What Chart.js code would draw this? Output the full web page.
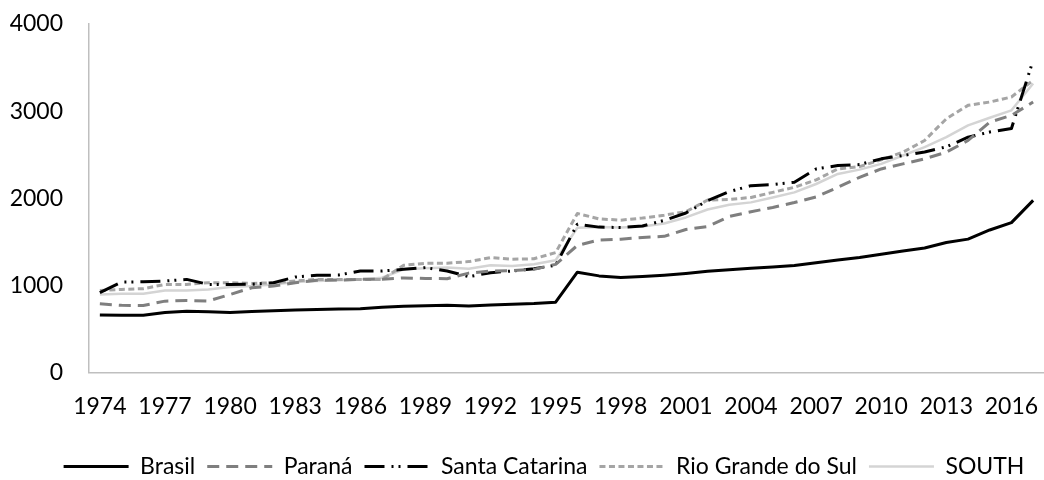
<!DOCTYPE html>
<html>
<head>
<meta charset="utf-8">
<script src="https://cdn.jsdelivr.net/npm/chart.js@4.4.1/dist/chart.umd.min.js"></script>
<style>
  html, body { margin: 0; padding: 0; background: #ffffff; }
  #wrap { width: 1044px; height: 480px; }
</style>
</head>
<body>
<div id="wrap"><canvas id="c" width="1044" height="480"></canvas></div>
<script>
const years = ['1974','1975','1976','1977','1978','1979','1980','1981','1982','1983','1984','1985','1986','1987','1988','1989','1990','1991','1992','1993','1994','1995','1996','1997','1998','1999','2000','2001','2002','2003','2004','2005','2006','2007','2008','2009','2010','2011','2012','2013','2014','2015','2016','2017'];

const brasil = [660,655,655,688,703,695,688,700,707,715,722,728,732,748,760,765,770,762,775,782,790,806,1150,1108,1090,1100,1115,1135,1160,1178,1195,1210,1228,1258,1290,1318,1356,1395,1428,1491,1530,1635,1720,1975];
const parana = [788,770,768,818,826,820,895,972,991,1030,1057,1060,1068,1070,1085,1078,1076,1140,1164,1168,1183,1240,1458,1520,1530,1548,1562,1640,1675,1790,1845,1894,1950,2015,2125,2240,2336,2394,2452,2528,2663,2874,2951,3104];
const santaCatarina = [915,1037,1041,1049,1068,1010,1008,1012,1030,1095,1114,1118,1164,1165,1183,1203,1164,1099,1145,1164,1191,1230,1702,1668,1663,1680,1745,1830,1972,2075,2144,2156,2183,2336,2375,2386,2452,2490,2530,2590,2700,2760,2800,3585];
const rioGrandeDoSul = [941,953,961,1010,1010,1030,1030,1022,1030,1049,1068,1068,1068,1068,1230,1253,1253,1272,1318,1299,1305,1375,1825,1762,1748,1772,1805,1845,1979,1985,2009,2067,2125,2210,2336,2363,2440,2528,2663,2912,3066,3104,3162,3354];
const south = [895,903,903,941,941,953,980,991,1010,1037,1049,1057,1068,1087,1183,1195,1203,1190,1230,1222,1241,1287,1660,1668,1663,1675,1710,1779,1870,1925,1952,2009,2067,2163,2278,2328,2394,2490,2586,2701,2836,2924,3009,3316];

const seriesNames = ['Brasil','Paraná','Santa Catarina','Rio Grande do Sul','SOUTH'];
const yTicks = [0,1000,2000,3000,4000];
const labelEvery = 3;

const FONT = 'Lato';
const FS = 23;

const legendShift = {
  id: 'legendShift',
  afterLayout(chart) {
    const l = chart.legend;
    if (!l) return;
    const dx = 19, dy = 3;
    l.left += dx; l.right += dx; l.top += dy; l.bottom += dy;
  }
};

function ds(label, data, color, width, dash) {
  return {
    label, data,
    borderColor: color,
    backgroundColor: color,
    borderWidth: width,
    borderDash: dash,
    borderCapStyle: 'butt',
    borderJoinStyle: 'round',
    pointRadius: 0,
    pointHoverRadius: 0,
    tension: 0,
    fill: false
  };
}

new Chart(document.getElementById('c'), {
  type: 'line',
  data: {
    labels: years,
    datasets: [
      ds(seriesNames[0], brasil, '#000000', 3, []),
      ds(seriesNames[1], parana, '#7f7f7f', 3, [12, 7]),
      ds(seriesNames[2], santaCatarina, '#000000', 3, [20, 7, 2, 5, 2, 7]),
      ds(seriesNames[3], rioGrandeDoSul, '#a5a5a5', 3, [6, 3.5]),
      ds(seriesNames[4], south, '#d4d4d4', 2.5, [])
    ]
  },
  options: {
    responsive: false,
    animation: false,
    events: [],
    layout: { autoPadding: false, padding: { left: 0, right: -6, top: 24, bottom: -5 } },
    plugins: {
      tooltip: { enabled: false },
      legend: {
        position: 'bottom',
        labels: {
          usePointStyle: true,
          pointStyle: 'line',
          pointStyleWidth: 65,
          padding: 12,
          color: '#000000',
          font: { family: FONT, size: FS },
          generateLabels: function(chart) {
            return chart.data.datasets.map((d, i) => ({
              text: d.label,
              fillStyle: d.borderColor,
              strokeStyle: d.borderColor,
              lineWidth: d.borderWidth,
              lineDash: d.borderDash,
              lineCap: 'butt',
              pointStyle: 'line',
              fontColor: '#000000',
              hidden: false,
              datasetIndex: i
            }));
          }
        }
      }
    },
    scales: {
      x: {
        type: 'category',
        offset: true,
        grid: { display: false, drawTicks: false },
        border: { display: true, color: '#bfbfbf', width: 1.5 },
        afterFit: function(scale) { scale.paddingLeft = 0; scale.paddingRight = -6; },
        ticks: {
          autoSkip: false,
          maxRotation: 0,
          minRotation: 0,
          padding: 20,
          color: '#000000',
          font: { family: FONT, size: FS },
          callback: function(v, i) { return i % labelEvery === 0 ? years[i] : ''; }
        }
      },
      y: {
        min: yTicks[0],
        max: yTicks[yTicks.length - 1],
        grid: { display: false, drawTicks: false },
        border: { display: true, color: '#bfbfbf', width: 1.5 },
        afterFit: function(scale) { scale.width = 89; scale.paddingTop = 0; scale.paddingBottom = 0; },
        afterBuildTicks: function(scale) { scale.ticks = yTicks.map(v => ({ value: v })); },
        ticks: {
          padding: 26,
          color: '#000000',
          font: { family: FONT, size: FS },
          callback: function(v) { return String(v); }
        }
      }
    }
  },
  plugins: [legendShift]
});
</script>
</body>
</html>
